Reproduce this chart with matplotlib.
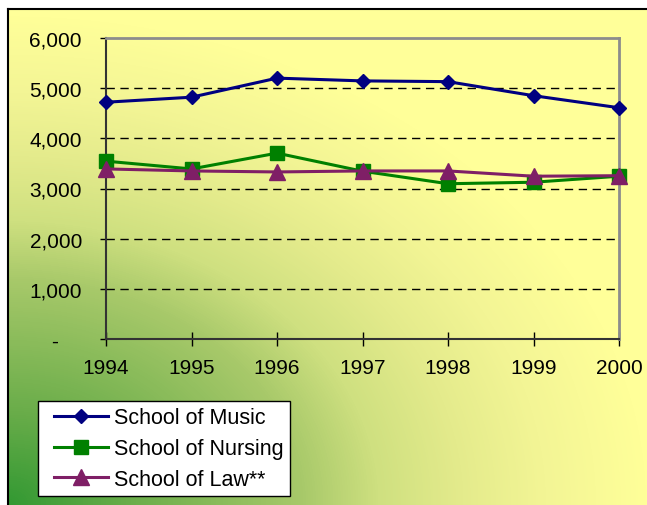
import numpy as np
import matplotlib.pyplot as plt
from matplotlib.colors import LinearSegmentedColormap
from matplotlib.transforms import ScaledTranslation
from matplotlib.legend_handler import HandlerLine2D

plt.rcParams['font.family'] = ['Liberation Sans', 'DejaVu Sans']

years = [1994, 1995, 1996, 1997, 1998, 1999, 2000]
music = [4720, 4820, 5200, 5145, 5130, 4850, 4610]
nursing = [3545, 3390, 3705, 3345, 3095, 3125, 3245]
law = [3390, 3350, 3330, 3350, 3350, 3245, 3255]
yticks = [0, 1000, 2000, 3000, 4000, 5000, 6000]
ytick_labels = ["-", "1,000", "2,000", "3,000", "4,000", "5,000", "6,000"]

W, H = 647, 506
fig = plt.figure(figsize=(W / 100, H / 100), dpi=100, facecolor="white")

# gradient background (green in the lower left corner fading to yellow)
bg = fig.add_axes([8 / W, 0, 1 - 8 / W, (H - 10) / H])
bw, bh = W - 8, H - 10
xx, yy = np.meshgrid(np.arange(bw), np.arange(bh)[::-1])
r = np.sqrt((xx / 640.0) ** 2 + (yy / 490.0) ** 2)
t = np.clip(r, 0, 1)
cmap = LinearSegmentedColormap.from_list(
    "gy", [(0, "#339933"), (0.19, "#6aad4a"), (0.46, "#a8c96a"), (0.58, "#cfe080"),
           (0.71, "#e4eb8c"), (0.84, "#f3f595"), (1, "#ffff99")])
bg.imshow(t, cmap=cmap, aspect="auto", extent=[0, bw, 0, bh], vmin=0, vmax=1)
bg.set_xticks([])
bg.set_yticks([])
for s in ["right", "bottom"]:
    bg.spines[s].set_visible(False)
for s in ["top", "left"]:
    bg.spines[s].set_linewidth(1.5)
    bg.spines[s].set_color("black")

ax = fig.add_axes([106 / W, (H - 340) / H, (619 - 106) / W, (340 - 39) / H])
ax.set_facecolor("none")

ax.plot(years, music, color="#000080", lw=2.2, marker="D", ms=7.5, clip_on=False,
        zorder=3, label="School of Music")
ax.plot(years, nursing, color="#008000", lw=2.2, marker="s", ms=10.5, clip_on=False,
        zorder=3, label="School of Nursing")
ax.plot(years, law, color="#7F1F66", lw=2.2, marker="^", ms=11, clip_on=False,
        zorder=3, label="School of Law**")

ax.set_xlim(1994, 2000)
ax.set_ylim(0, 6000)
ax.set_xticks(years)
ax.set_yticks(yticks)
ax.set_yticklabels(ytick_labels)
for y in yticks[1:-1]:
    ax.axhline(y, color="black", lw=1, ls=(0, (6, 4)), zorder=0.5)

ax.tick_params(axis="x", direction="inout", length=10, width=1, pad=9, labelsize=15)
ax.tick_params(axis="y", direction="out", length=4.3, width=1, pad=13, labelsize=15)
zero_lbl = ax.get_yticklabels()[0]
zero_lbl.set_transform(zero_lbl.get_transform() + ScaledTranslation(-0.24, 0, fig.dpi_scale_trans))

for s in ["left", "bottom"]:
    ax.spines[s].set_color("#333333")
    ax.spines[s].set_linewidth(1.5)
for s in ["top", "right"]:
    ax.spines[s].set_color("#8c8c8c")
    ax.spines[s].set_linewidth(2)

leg = fig.legend(loc="lower left", bbox_to_anchor=(38 / W, 9 / H), fontsize=15.5,
                 frameon=True, fancybox=False, framealpha=1, edgecolor="black",
                 handlelength=2.95, handletextpad=0.3, labelspacing=0.46,
                 borderpad=0.28, borderaxespad=0,
                 handler_map={plt.Line2D: HandlerLine2D(xpad=0.47)})
leg.get_frame().set_linewidth(1)

fig.savefig("out.png", dpi=100, facecolor="white")
